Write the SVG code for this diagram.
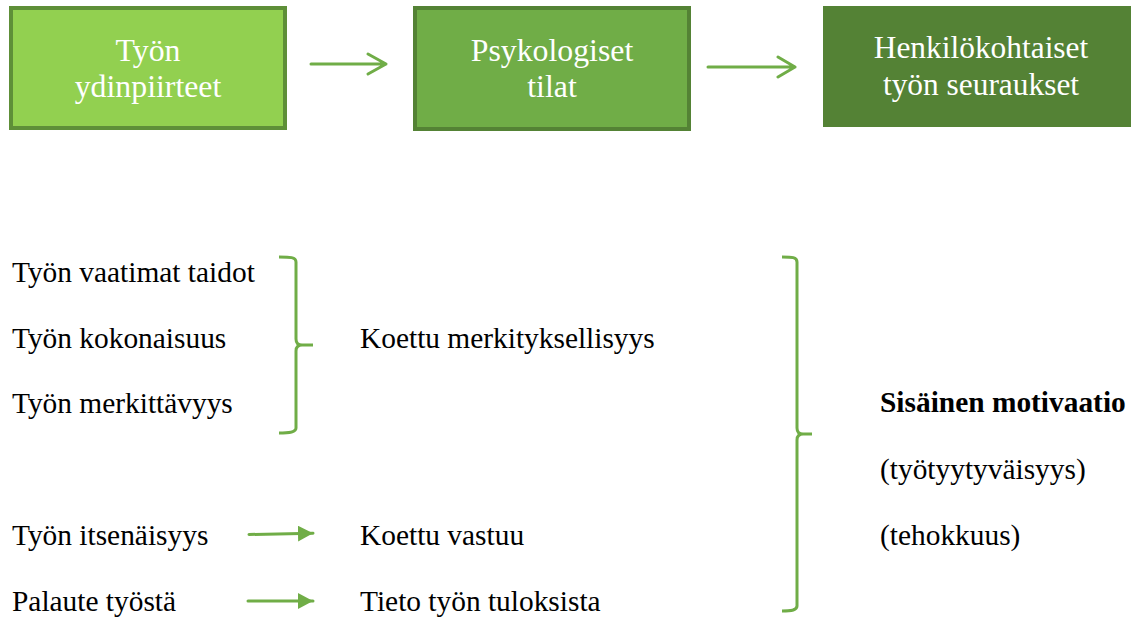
<svg xmlns="http://www.w3.org/2000/svg" width="1134" height="619" viewBox="0 0 1134 619">
  <defs>
    <style>
      .box-text { font-family: "Liberation Serif", "Times New Roman", serif; font-size: 31.8px; fill: #ffffff; text-anchor: middle; }
      .lbl { font-family: "Liberation Serif", "Times New Roman", serif; font-size: 29.4px; fill: #000000; }
      .bold { font-weight: bold; }
      .conn { fill: none; stroke: #70AD47; stroke-width: 3; stroke-linecap: round; stroke-linejoin: round; }
      .brace { fill: none; stroke: #70AD47; stroke-width: 3; }
    </style>
    <marker id="filled" markerWidth="16" markerHeight="16" refX="15" refY="8" orient="auto" markerUnits="userSpaceOnUse">
      <path d="M0,0 L15,8 L0,16 Z" fill="#70AD47"/>
    </marker>
  </defs>
  <rect width="1134" height="619" fill="#ffffff"/>

  <g id="node-tyon-ydinpiirteet">
    <rect x="11" y="8" width="274" height="120" fill="#92D050" stroke="#5E8F38" stroke-width="4"/>
    <text class="box-text" x="148" y="61">Työn</text>
    <text class="box-text" x="148" y="97">ydinpiirteet</text>
  </g>
  <g id="node-psykologiset-tilat">
    <rect x="415" y="8" width="274" height="121" fill="#70AD47" stroke="#548235" stroke-width="4"/>
    <text class="box-text" x="552" y="61">Psykologiset</text>
    <text class="box-text" x="552" y="97">tilat</text>
  </g>
  <g id="node-henkilokohtaiset">
    <rect x="823" y="6" width="308" height="121" fill="#548235"/>
    <text class="box-text" x="981" y="58" style="font-size:31.4px">Henkilökohtaiset</text>
    <text class="box-text" x="981" y="95" style="font-size:31.4px">työn seuraukset</text>
  </g>

  <g id="connectors">
    <path class="conn" d="M311,64 H386 M368,54 L386,64 L368,74"/>
    <path class="conn" d="M708,67 H795 M778,57 L795,67 L778,77"/>
    <line class="conn" x1="249" y1="534.5" x2="313" y2="533.3" marker-end="url(#filled)" stroke-linecap="butt"/>
    <line class="conn" x1="248" y1="601" x2="313" y2="601" marker-end="url(#filled)" stroke-linecap="butt"/>
    <path class="brace" d="M279,257 C290,257 296,257 296,262 V339 C296,343 298,345 302,345 H313 M302,345 C298,345 296,347 296,351 V428 C296,432 290,433 279,433"/>
    <path class="brace" d="M782,257 C792,257 797,257 797,262 V428 C797,432 799,434 803,434 H812 M803,434 C799,434 797,436 797,440 V606 C797,610 792,611 782,611"/>
  </g>

  <g id="labels-left">
    <text class="lbl" x="12" y="282">Työn vaatimat taidot</text>
    <text class="lbl" x="12" y="348">Työn kokonaisuus</text>
    <text class="lbl" x="12" y="413">Työn merkittävyys</text>
    <text class="lbl" x="12" y="545">Työn itsenäisyys</text>
    <text class="lbl" x="12" y="611">Palaute työstä</text>
  </g>
  <g id="labels-middle">
    <text class="lbl" x="360" y="348">Koettu merkityksellisyys</text>
    <text class="lbl" x="360" y="545">Koettu vastuu</text>
    <text class="lbl" x="360" y="611">Tieto työn tuloksista</text>
  </g>
  <g id="labels-right">
    <text class="lbl bold" x="880" y="412">Sisäinen motivaatio</text>
    <text class="lbl" x="880" y="479">(työtyytyväisyys)</text>
    <text class="lbl" x="880" y="545">(tehokkuus)</text>
  </g>
</svg>
